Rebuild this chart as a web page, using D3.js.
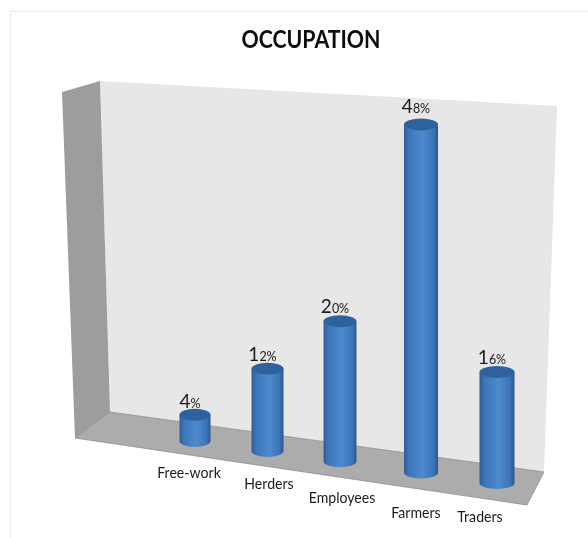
<!DOCTYPE html>
<html>
<head>
<meta charset="utf-8">
<script src="https://d3js.org/d3.v7.min.js"></script>
<style>
  html, body { margin: 0; padding: 0; background: #fff; }
  svg { display: block; }
</style>
</head>
<body>
<svg class="occupation" width="588" height="538"></svg>
<script>
let categories = ['Free-work', 'Herders', 'Employees', 'Farmers', 'Traders'];
let percents = [4, 12, 20, 48, 16];

let svg = d3.select('.occupation');
let defs = svg.append('defs');

// Side-to-side shading of the cylinders
let shade = defs.append('linearGradient').attr('id', 'cyl');
shade.append('stop').attr('offset', '0%').attr('stop-color', '#2c5c98');
shade.append('stop').attr('offset', '14%').attr('stop-color', '#3d75b8');
shade.append('stop').attr('offset', '55%').attr('stop-color', '#4d8acf');
shade.append('stop').attr('offset', '88%').attr('stop-color', '#3c73b4');
shade.append('stop').attr('offset', '100%').attr('stop-color', '#2a568d');

defs.append('filter').attr('id', 'soft')
    .append('feGaussianBlur').attr('stdDeviation', 0.45);

// Faint border left in the picture at the top and left
svg.append('path')
    .attr('d', 'M10.5,538V11.5H588')
    .attr('fill', 'none')
    .attr('stroke', '#ececec')
    .attr('stroke-width', 1);

// Frame of the chart: back wall, side wall and floor
let line = d3.line();
let chart = svg.append('g').attr('filter', 'url(#soft)');

chart.append('path')
    .attr('d', line([[100, 81], [557, 106], [544, 472], [110, 412]]) + 'Z')
    .attr('fill', '#e7e7e7');
chart.append('path')
    .attr('d', line([[62, 92], [100, 81], [110, 412], [75, 438]]) + 'Z')
    .attr('fill', '#9d9d9d');
chart.append('path')
    .attr('d', line([[75, 438], [110, 412], [544, 472], [527, 505]]) + 'Z')
    .attr('fill', '#acacac')
    .attr('stroke', '#8f8f8f')
    .attr('stroke-width', 0.8);

// The floor recedes, so bars further right sit lower and look bigger
let slot = d3.scalePoint().domain(categories).range([0, 1]);
let xFloor = d3.scaleLinear().domain([0, 0.5, 0.75, 1]).range([195, 340, 421, 497]);
let yFloor = d3.scaleLinear().domain([195, 497]).range([441, 483]);
let radius = d3.scaleLinear().domain([195, 497]).range([15.5, 17.5]);
let barHeight = d3.scalePow().exponent(1.04).domain([0, 48]).range([0, 348]);
let labelGap = d3.scaleLinear().domain([4, 48]).range([7, 11]);

let ry = 6;
let labelNudge = { 'Free-work': [-6, 37], 'Herders': [1.5, 38], 'Employees': [2, 42], 'Farmers': [-5, 46], 'Traders': [-17, 39] };

let bars = chart.selectAll('.bar')
    .data(categories.map((c, i) => {
      let x = xFloor(slot(c));
      let base = yFloor(x);
      return { name: c, value: percents[i], x: x, base: base, r: radius(x), top: base - barHeight(percents[i]) };
    }))
    .enter()
    .append('g')
    .attr('class', 'bar');

bars.append('path')
    .attr('fill', 'url(#cyl)')
    .attr('d', d => `M${d.x - d.r},${d.top}L${d.x - d.r},${d.base}A${d.r},${ry} 0 0 0 ${d.x + d.r},${d.base}L${d.x + d.r},${d.top}Z`);

bars.append('ellipse')
    .attr('cx', d => d.x)
    .attr('cy', d => d.top)
    .attr('rx', d => d.r)
    .attr('ry', ry)
    .attr('fill', '#2f629c');

// Text gets a lighter blur than the shapes
defs.append('filter').attr('id', 'softText')
    .append('feGaussianBlur').attr('stdDeviation', 0.3);
let texts = svg.append('g').attr('filter', 'url(#softText)');

// Value labels: the first digit is set larger than the rest
let valueText = texts.selectAll('.value')
    .data(bars.data())
    .enter()
    .append('text')
    .attr('class', 'value')
    .attr('x', d => d.x - 5)
    .attr('y', d => d.top - labelGap(d.value))
    .attr('text-anchor', 'middle')
    .attr('font-family', 'Lato')
    .attr('fill', '#1c1c1c');
valueText.append('tspan').attr('font-size', 19).text(d => String(d.value)[0]);
valueText.append('tspan').attr('font-size', 12.5).text(d => String(d.value).slice(1) + '%');

texts.selectAll('.cat')
    .data(bars.data())
    .enter()
    .append('text')
    .attr('class', 'cat')
    .attr('x', d => d.x + labelNudge[d.name][0])
    .attr('y', d => d.base + labelNudge[d.name][1])
    .attr('text-anchor', 'middle')
    .attr('font-family', 'Lato')
    .attr('font-size', 15)
    .attr('fill', '#1c1c1c')
    .text(d => d.name)
    .attr('textLength', function () { return this.getComputedTextLength() * 0.94; })
    .attr('lengthAdjust', 'spacingAndGlyphs');

texts.append('text')
    .attr('x', 311)
    .attr('y', 48)
    .attr('text-anchor', 'middle')
    .attr('font-family', 'Lato')
    .attr('font-weight', 700)
    .attr('font-size', 24)
    .attr('fill', '#0a0a0a')
    .attr('textLength', 139)
    .attr('lengthAdjust', 'spacingAndGlyphs')
    .text('OCCUPATION');
</script>
</body>
</html>
